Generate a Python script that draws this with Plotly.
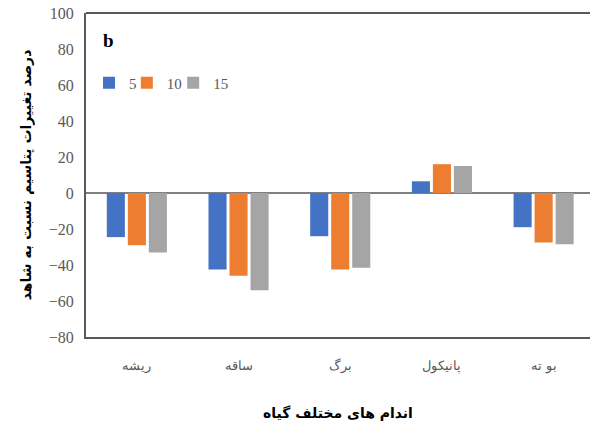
import plotly.graph_objects as go

categories = ["ریشه", "ساقه", "برگ", "پانیکول", "بو ته"]
series_names = ["5", "10", "15"]
values_5 = [-24.5, -42.5, -24, 6.5, -19]
values_10 = [-29, -46, -42.5, 16, -27.5]
values_15 = [-33, -54, -41.5, 15, -28.5]
colors = ["#4472C4", "#ED7D31", "#A5A5A5"]
y_ticks = [-80, -60, -40, -20, 0, 20, 40, 60, 80, 100]

legend_ids = ["legend", "legend2", "legend3"]
legend_x = [0.006, 0.081, 0.173]

fig = go.Figure()
for name, vals, col, lg in zip(series_names, [values_5, values_10, values_15], colors, legend_ids):
    fig.add_trace(go.Bar(x=categories, y=vals, name=name, marker_color=col,
                         marker_line_width=0, legend=lg))

axis_col = "#595959"
legend_style = dict(orientation="h", yanchor="middle", xanchor="left", y=0.784,
                    font=dict(family="Liberation Serif", size=15, color=axis_col),
                    bgcolor="rgba(0,0,0,0)", itemwidth=30)
layout_legends = {}
for lg, lx in zip(legend_ids, legend_x):
    layout_legends[lg] = dict(legend_style, x=lx)

fig.update_layout(
    width=590, height=427,
    margin=dict(l=86, r=0, t=13, b=90, autoexpand=False),
    paper_bgcolor="white", plot_bgcolor="white",
    barmode="group", bargap=0.38, bargroupgap=0.14,
    font=dict(family="Liberation Serif, DejaVu Serif, serif", color=axis_col),
    showlegend=True,
    xaxis=dict(range=[-0.5, 4.456], showline=True, linecolor=axis_col, linewidth=2,
               mirror=False, showgrid=False, ticks="", ticklabelstandoff=15, automargin=False,
               tickfont=dict(family="DejaVu Serif, serif", size=13, color=axis_col),
               title=dict(text="<b>اندام های مختلف گیاه</b>", standoff=36,
                          font=dict(family="DejaVu Sans, sans-serif", size=14, color="black"))),
    yaxis=dict(range=[-80, 100], tickvals=y_ticks, showline=True, linecolor=axis_col,
               linewidth=2, showgrid=False, zeroline=True, zerolinecolor="#808080",
               zerolinewidth=1.5, ticks="", ticklabelstandoff=7, automargin=False,
               ticklabeloverflow="allow",
               tickfont=dict(family="Liberation Serif", size=16, color=axis_col),
               title=dict(text="<b>درصد تغییرات پتاسیم نسبت به شاهد</b>", standoff=14,
                          font=dict(family="DejaVu Sans, sans-serif", size=14, color="black"))),
    **layout_legends,
)
# top border of the plot frame
fig.add_shape(type="line", xref="paper", yref="paper", x0=0, x1=1, y0=1, y1=1,
              line=dict(color=axis_col, width=2), layer="above")
fig.add_annotation(text="<b>b</b>", xref="paper", yref="paper", x=0.03, y=0.914,
                   xanchor="left", yanchor="middle", showarrow=False,
                   font=dict(family="Liberation Serif", size=19, color="black"))

# remove the browser's default 8px body margin so the figure fills the window exactly
fig.write_html("out.html", config={"displayModeBar": False},
               post_script="document.body.style.margin='0';document.body.style.overflow='hidden';")
